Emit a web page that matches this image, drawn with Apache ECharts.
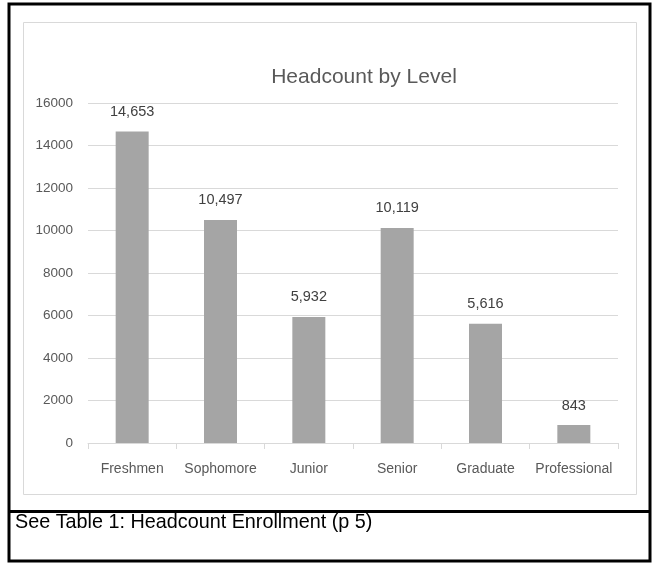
<!DOCTYPE html>
<html>
<head>
<meta charset="utf-8">
<script src="https://cdn.jsdelivr.net/npm/echarts@6/dist/echarts.min.js"></script>
<style>
html,body{margin:0;padding:0;background:#fff;}
#c{width:655px;height:564px;}
</style>
</head>
<body>
<div id="c"></div>
<script>
const categories = ['Freshmen', 'Sophomore', 'Junior', 'Senior', 'Graduate', 'Professional'];
const headcount = [14653, 10497, 5932, 10119, 5616, 843];
const yTicks = [0, 2000, 4000, 6000, 8000, 10000, 12000, 14000, 16000];
const titleText = 'Headcount by Level';
const captionText = 'See Table 1: Headcount Enrollment (p 5)';

const font = "'Liberation Sans', Arial, sans-serif";
const chart = echarts.init(document.getElementById('c'), null, {renderer: 'canvas'});
chart.setOption({
  backgroundColor: '#ffffff',
  animation: false,
  title: {
    text: titleText,
    left: 359, top: 62, textAlign: 'center',
    textStyle: {fontFamily: font, fontSize: 21, fontWeight: 'normal', color: '#595959'}
  },
  grid: {left: 88, right: 37, top: 103, bottom: 121, containLabel: false},
  xAxis: {
    type: 'category',
    data: categories,
    axisLine: {lineStyle: {color: '#d9d9d9', width: 1}},
    axisTick: {show: true, length: 6, lineStyle: {color: '#d9d9d9'}},
    axisLabel: {fontFamily: font, fontSize: 14, color: '#595959', margin: 19, interval: 0}
  },
  yAxis: {
    type: 'value',
    min: yTicks[0], max: yTicks[yTicks.length - 1], interval: yTicks[1] - yTicks[0],
    axisLine: {show: false},
    axisTick: {show: false},
    axisLabel: {fontFamily: font, fontSize: 13.5, color: '#595959', margin: 15, formatter: v => String(v)},
    splitLine: {lineStyle: {color: '#d9d9d9', width: 1}}
  },
  series: [{
    type: 'bar',
    data: headcount,
    barWidth: 33,
    itemStyle: {color: '#a5a5a5'},
    label: {
      show: true, position: 'top', distance: 12,
      fontFamily: font, fontSize: 14.5, color: '#404040',
      formatter: p => p.value.toLocaleString('en-US')
    }
  }],
  graphic: [
    {type: 'rect', shape: {x: 23.5, y: 22.5, width: 613, height: 472}, style: {fill: 'none', stroke: '#d9d9d9', lineWidth: 1}, z: -1},
    {type: 'rect', shape: {x: 9, y: 4, width: 641, height: 557}, style: {fill: 'none', stroke: '#000', lineWidth: 3}},
    {type: 'line', shape: {x1: 9, y1: 511.5, x2: 650, y2: 511.5}, style: {stroke: '#000', lineWidth: 3}},
    {type: 'text', x: 15, y: 523, style: {text: captionText, fontFamily: font, fontSize: 19.8, fill: '#000', verticalAlign: 'middle'}}
  ]
});
</script>
</body>
</html>
